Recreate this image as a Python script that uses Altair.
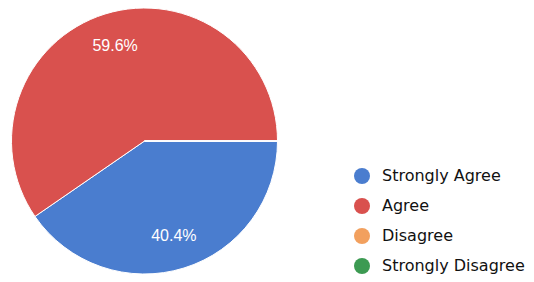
import math
import altair as alt
import pandas as pd

categories = ["Strongly Agree", "Agree", "Disagree", "Strongly Disagree"]
values = [40.4, 59.6, 0.0, 0.0]
labels = ["40.4%", "59.6%", "", ""]
colors = ["#4a7dcf", "#d9514e", "#f2a05e", "#3c9a52"]

df = pd.DataFrame({
    "category": categories,
    "value": values,
    "label": labels,
    "order": list(range(len(categories))),
})

theta = alt.Theta("value:Q", stack=True,
                  scale=alt.Scale(range=[math.pi / 2, math.pi / 2 + 2 * math.pi]))
color = alt.Color(
    "category:N",
    sort=categories,
    scale=alt.Scale(domain=categories, range=colors),
    legend=alt.Legend(
        title=None, orient="none", legendX=346, legendY=160,
        symbolType="circle", symbolSize=256, symbolStrokeWidth=0,
        labelFont="DejaVu Sans", labelFontSize=16, labelColor="#111111",
        rowPadding=14, labelOffset=12, padding=0,
    ),
)

base = alt.Chart(df).encode(
    theta=theta,
    order=alt.Order("order:Q"),
    x=alt.value(136.5),
    y=alt.value(133),
)

arcs = base.mark_arc(outerRadius=133, stroke="white", strokeWidth=1).encode(color=color)

text = base.transform_filter("datum.value > 0").mark_text(
    radius=99, color="white", font="Liberation Sans", fontSize=16
).encode(text="label:N")

chart = alt.layer(arcs, text).properties(
    width=518, height=266, padding=0,
    autosize=alt.AutoSizeParams(type="none"),
).configure_view(stroke=None)

chart.save("out.html", embed_options={"renderer": "svg", "actions": False})
